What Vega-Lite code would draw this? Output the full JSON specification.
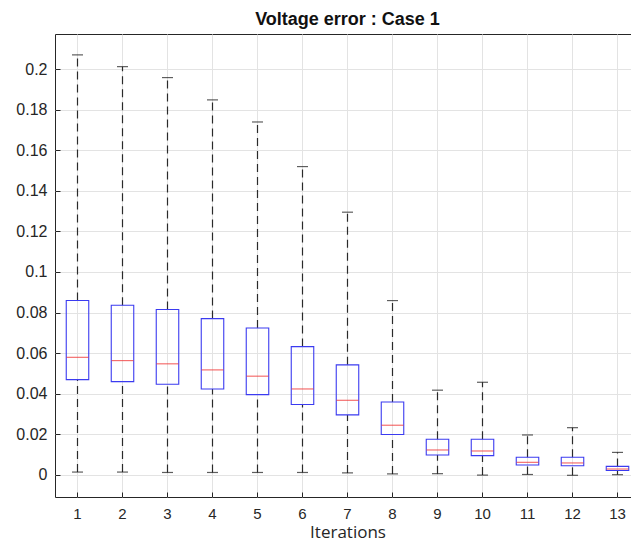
{
  "$schema": "https://vega.github.io/schema/vega-lite/v6.json",
  "width": 585,
  "height": 463,
  "autosize": "none",
  "padding": {"left": 55, "top": 34, "right": 0, "bottom": 49},
  "background": "white",
  "title": {
    "text": "Voltage error : Case 1",
    "font": "Liberation Sans",
    "fontSize": 18,
    "fontWeight": "bold",
    "color": "#111111",
    "anchor": "middle",
    "baseline": "alphabetic",
    "offset": 9,
    "dy": 18
  },
  "config": {
    "view": {"stroke": "#262626", "strokeWidth": 1},
    "axis": {
      "labelFont": "Liberation Sans",
      "labelFontSize": 16,
      "labelColor": "#262626",
      "gridColor": "#e3e3e3",
      "gridWidth": 1,
      "domain": false,
      "tickColor": "#262626",
      "tickSize": -5,
      "titleFont": "Open Sans",
      "titleFontSize": 17,
      "titleFontWeight": "normal",
      "titleColor": "#262626"
    }
  },
  "data": {
    "values": [
      {"iter": 1, "lo": 0.0013, "q1": 0.0469, "med": 0.0579, "q3": 0.0859, "hi": 0.2071},
      {"iter": 2, "lo": 0.0013, "q1": 0.0459, "med": 0.0563, "q3": 0.0836, "hi": 0.2013},
      {"iter": 3, "lo": 0.0011, "q1": 0.0446, "med": 0.0547, "q3": 0.0815, "hi": 0.1959},
      {"iter": 4, "lo": 0.0011, "q1": 0.0423, "med": 0.0517, "q3": 0.0770, "hi": 0.1849},
      {"iter": 5, "lo": 0.0011, "q1": 0.0395, "med": 0.0486, "q3": 0.0724, "hi": 0.1740},
      {"iter": 6, "lo": 0.0011, "q1": 0.0346, "med": 0.0423, "q3": 0.0632, "hi": 0.1520},
      {"iter": 7, "lo": 0.0009, "q1": 0.0295, "med": 0.0367, "q3": 0.0542, "hi": 0.1295},
      {"iter": 8, "lo": 0.0004, "q1": 0.0198, "med": 0.0244, "q3": 0.0359, "hi": 0.0859},
      {"iter": 9, "lo": 0.0005, "q1": 0.0097, "med": 0.0122, "q3": 0.0175, "hi": 0.0417},
      {"iter": 10, "lo": -0.0002, "q1": 0.0094, "med": 0.0117, "q3": 0.0175, "hi": 0.0456},
      {"iter": 11, "lo": 0.0001, "q1": 0.0048, "med": 0.0061, "q3": 0.0086, "hi": 0.0196},
      {"iter": 12, "lo": -0.0003, "q1": 0.0044, "med": 0.0058, "q3": 0.0086, "hi": 0.0232},
      {"iter": 13, "lo": 0.0000, "q1": 0.0021, "med": 0.0028, "q3": 0.0041, "hi": 0.0110}
    ]
  },
  "encoding": {
    "x": {
      "field": "iter",
      "type": "ordinal",
      "scale": {"type": "band", "paddingInner": 0, "paddingOuter": 0},
      "axis": {
        "title": "Iterations",
        "labelAngle": 0,
        "labelFontSize": 15,
        "labelPadding": 14,
        "bandPosition": 0.5,
        "grid": true,
        "titlePadding": 3
      }
    }
  },
  "layer": [
    {
      "mark": {"type": "rule", "color": "#2a2a2a", "strokeWidth": 1.2, "strokeDash": [8, 5]},
      "encoding": {
        "y": {
          "field": "lo",
          "type": "quantitative",
          "scale": {"domain": [-0.011, 0.2174], "nice": false, "zero": false},
          "axis": {
            "title": null,
            "values": [0, 0.02, 0.04, 0.06, 0.08, 0.1, 0.12, 0.14, 0.16, 0.18, 0.2],
            "format": "~g",
            "labelPadding": 13,
            "grid": true
          }
        },
        "y2": {"field": "q1"}
      }
    },
    {
      "mark": {"type": "rule", "color": "#2a2a2a", "strokeWidth": 1.2, "strokeDash": [8, 5]},
      "encoding": {
        "y": {"field": "q3", "type": "quantitative"},
        "y2": {"field": "hi"}
      }
    },
    {
      "mark": {"type": "tick", "color": "#1a1a1a", "size": 11, "thickness": 1.2},
      "encoding": {"y": {"field": "lo", "type": "quantitative"}}
    },
    {
      "mark": {"type": "tick", "color": "#1a1a1a", "size": 11, "thickness": 1.2},
      "encoding": {"y": {"field": "hi", "type": "quantitative"}}
    },
    {
      "mark": {"type": "bar", "fill": "white", "fillOpacity": 0, "stroke": "#3b3bf0", "strokeWidth": 1.1, "width": {"band": 0.5}},
      "encoding": {
        "y": {"field": "q1", "type": "quantitative"},
        "y2": {"field": "q3"}
      }
    },
    {
      "mark": {"type": "tick", "color": "#f03030", "size": 22, "thickness": 1.2},
      "encoding": {"y": {"field": "med", "type": "quantitative"}}
    }
  ]
}
